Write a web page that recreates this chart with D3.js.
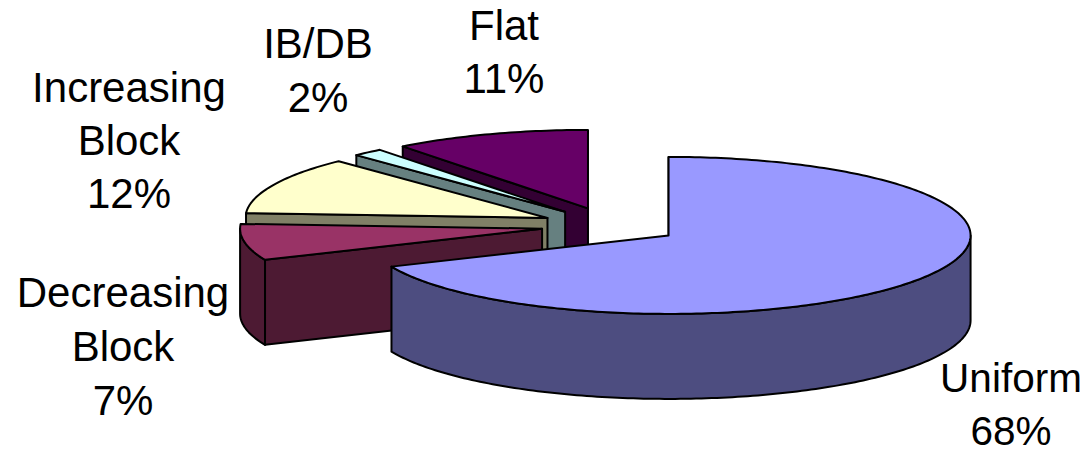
<!DOCTYPE html>
<html>
<head>
<meta charset="utf-8">
<script src="https://cdnjs.cloudflare.com/ajax/libs/d3/7.8.5/d3.min.js"></script>
<style>html,body{margin:0;padding:0;background:#fff}svg{display:block}</style>
</head>
<body>
<div id="chart"></div>
<script>
const categories = ["Uniform", "Decreasing Block", "Increasing Block", "IB/DB", "Flat"];
const shares = [68.49, 7.47, 11.89, 1.64, 10.51];
const topColors = ["#9999FF", "#993366", "#FFFFCC", "#CCFFFF", "#660066"];
const sideColors = ["#4D4D80", "#4D1A33", "#808066", "#668080", "#330033"];
const labelLines = [["Uniform"], ["Decreasing", "Block"], ["Increasing", "Block"], ["IB/DB"], ["Flat"]];
const labelAnchors = [[1011, 392], [123, 307], [129, 102], [318, 58], [504, 40]];
const labelSizes = [40.5, 42, 42, 42, 42];

const W = 1089, H = 451;
const cx = 610.5, cy = 225.5, rx = 302, ry = 78.5, depth = 85, explode = 0.23;
const lineGap = [53, 54, 53, 54, 53];

const svg = d3.select("#chart").append("svg").attr("width", W).attr("height", H);
const X = d3.scaleLinear().domain([-1, 1]).range([cx - rx, cx + rx]);
const Y = d3.scaleLinear().domain([-1, 1]).range([cy - ry, cy + ry]);
const pct = d3.format(".0%");
const total = d3.sum(shares);

const arcs = d3.pie().sort(null).value(d => d)(shares);
const ux = a => Math.sin(a), uy = a => -Math.cos(a);

const slices = arcs.map((a, i) => {
  const mid = (a.startAngle + a.endAngle) / 2;
  return {i, a0: a.startAngle, a1: a.endAngle, ox: explode * ux(mid), oy: explode * uy(mid)};
});

const line = d3.line().x(d => X(d[0])).y(d => Y(d[1]) + d[2]);
const rimPts = (s, a0, a1, dz) => {
  const n = Math.max(2, Math.ceil((a1 - a0) * 180 / Math.PI));
  return d3.range(n + 1).map(k => {
    const a = a0 + (a1 - a0) * k / n;
    return [s.ox + ux(a), s.oy + uy(a), dz];
  });
};
const hub = (s, dz) => [s.ox, s.oy, dz];

const stroke = g => g.attr("stroke", "#000").attr("stroke-width", 2).attr("stroke-linejoin", "round");
const face = (pts, fill) => svg.append("path").attr("d", line(pts) + "Z").attr("fill", fill).call(stroke);

// Painter's order: back slices first
[4, 3, 2, 1, 0].forEach(idx => {
  const s = slices[idx];
  const side = sideColors[idx];
  // radial wall at the starting edge
  const rimA = [s.ox + ux(s.a0), s.oy + uy(s.a0)];
  face([hub(s, 0), [rimA[0], rimA[1], 0], [rimA[0], rimA[1], depth], hub(s, depth)], side);
  // outer wall, only the part that faces the viewer
  const lo = Math.max(s.a0, Math.PI / 2), hi = Math.min(s.a1, 3 * Math.PI / 2);
  if (hi > lo) {
    face(rimPts(s, lo, hi, 0).concat(rimPts(s, lo, hi, depth).reverse()), side);
  }
  // top face
  face([hub(s, 0)].concat(rimPts(s, s.a0, s.a1, 0)), topColors[idx]);
});

// Labels
categories.forEach((c, i) => {
  const lines = labelLines[i].concat(pct(shares[i] / total));
  const t = svg.append("text")
    .attr("text-anchor", "middle")
    .attr("font-family", "'Liberation Sans', Arial, sans-serif")
    .attr("font-size", labelSizes[i])
    .attr("fill", "#000");
  lines.forEach((l, k) => {
    t.append("tspan")
      .attr("x", labelAnchors[i][0])
      .attr("y", labelAnchors[i][1] + k * lineGap[i])
      .text(l);
  });
});
</script>
</body>
</html>
